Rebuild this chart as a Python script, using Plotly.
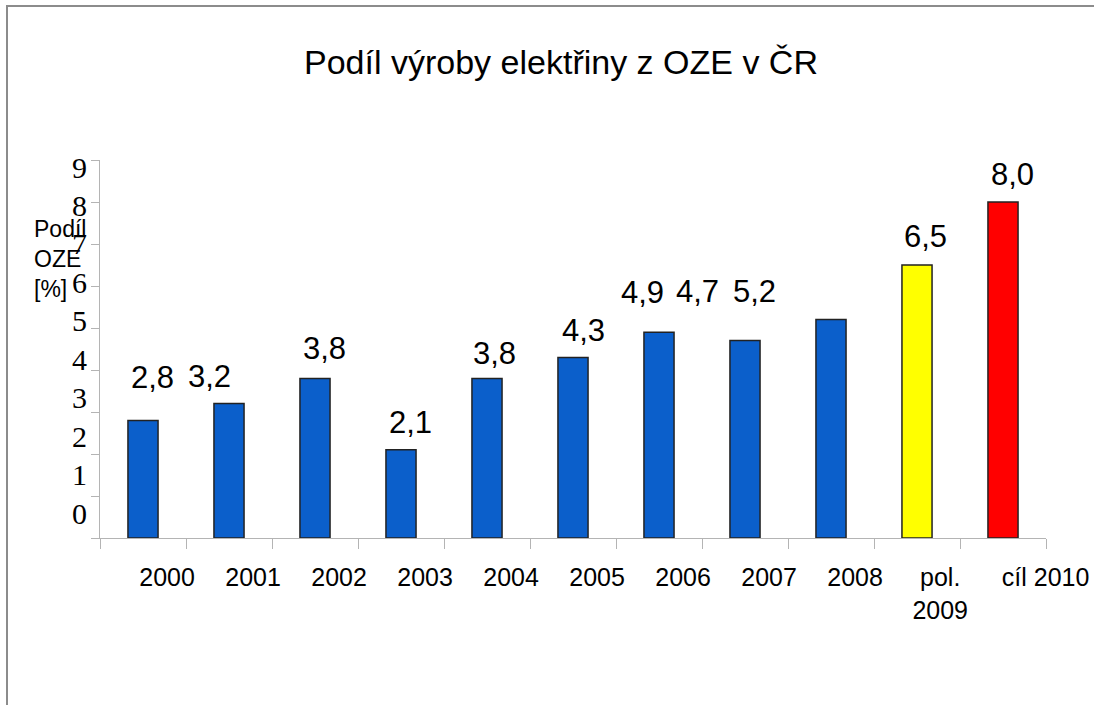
import plotly.graph_objects as go

# ---- data ----
categories = ["2000", "2001", "2002", "2003", "2004", "2005", "2006", "2007", "2008", "pol. 2009", "cíl 2010"]
tick_labels = ["2000", "2001", "2002", "2003", "2004", "2005", "2006", "2007", "2008", "pol.<br>2009", "cíl 2010"]
values = [2.8, 3.2, 3.8, 2.1, 3.8, 4.3, 4.9, 4.7, 5.2, 6.5, 8.0]
value_labels = ["2,8", "3,2", "3,8", "2,1", "3,8", "4,3", "4,9", "4,7", "5,2", "6,5", "8,0"]
y_ticks = [0, 1, 2, 3, 4, 5, 6, 7, 8, 9]

# ---- styling / layout tweaks (not data) ----
bar_colors = ["#0b5fcb"] * 9 + ["#ffff00", "#ff0000"]
label_dx = [9, -20, 9, 9, 7, 10, -17, -48, -77, 8, 9]      # px
label_dy = [43, 27, 30, 27, 25, 27, 40, 49, 28, 29, 28]    # px
xlabel_shift = [0.28] * 9 + [0.27, 0.495]                   # category units

W, H = 1094, 705
L, R, T, B = 100, 48, 160, 167
PW, PH = W - L - R, H - T - B

fig = go.Figure()
fig.add_trace(go.Bar(
    x=categories, y=values, width=0.35,
    marker=dict(color=bar_colors, line=dict(color="#222222", width=1.5)),
    hoverinfo="skip", showlegend=False,
))
# invisible helper traces so that the overlaying label axes are drawn
fig.add_trace(go.Scatter(x=[0], y=[0], xaxis="x2", yaxis="y", mode="markers",
                         marker=dict(opacity=0), hoverinfo="skip", showlegend=False))
fig.add_trace(go.Scatter(x=[categories[0]], y=[0], xaxis="x", yaxis="y2", mode="markers",
                         marker=dict(opacity=0), hoverinfo="skip", showlegend=False))

for i, (v, t) in enumerate(zip(values, value_labels)):
    fig.add_annotation(x=i, y=v, xref="x", yref="y", text=t, showarrow=False,
                       xanchor="center", yanchor="middle",
                       xshift=label_dx[i], yshift=label_dy[i],
                       font=dict(family="Arial, Liberation Sans", size=31, color="black"))

fig.add_annotation(xref="paper", yref="paper", x=(32 - L) / PW, y=(538 - 259) / PH,
                   text="Podíl<br>OZE<br>[%]", showarrow=False, xanchor="left", yanchor="middle",
                   align="left", font=dict(family="Arial, Liberation Sans", size=23, color="black"))

# outer frame (left and top edges visible)
fig.add_shape(type="rect", xref="paper", yref="paper",
              x0=(7 - L) / PW, x1=1.3, y0=-0.6, y1=(538 - 6) / PH,
              line=dict(color="#8c8c8c", width=2), fillcolor="rgba(0,0,0,0)", layer="below")

grey = "#b4b4b4"
fig.update_layout(
    width=W, height=H, autosize=False,
    margin=dict(l=L, r=R, t=T, b=B, pad=0, autoexpand=False),
    paper_bgcolor="white", plot_bgcolor="white",
    title=dict(text="Podíl výroby elektřiny z OZE v ČR", x=561 / W, xanchor="center",
               y=1 - 62 / H, yanchor="middle", yref="container",
               font=dict(family="Arial, Liberation Sans", size=34, color="black")),
    xaxis=dict(type="category", range=[-0.5, len(categories) - 0.5], showticklabels=False,
               ticks="outside", tickson="boundaries", ticklen=10, tickcolor=grey, tickwidth=1,
               showline=True, linecolor=grey, linewidth=1, showgrid=False, zeroline=False,
               fixedrange=True, automargin=False),
    xaxis2=dict(overlaying="x", anchor="y", side="bottom", type="linear",
                range=[-0.5, len(categories) - 0.5], automargin=False,
                tickmode="array", tickvals=[i + s for i, s in enumerate(xlabel_shift)],
                ticktext=tick_labels, ticks="", showline=False, showgrid=False, zeroline=False,
                ticklabelstandoff=22,
                tickfont=dict(family="Arial, Liberation Sans", size=25, color="black")),
    yaxis=dict(range=[0, 9], tickmode="array", tickvals=y_ticks, showticklabels=False,
               ticks="outside", ticklen=8, tickcolor=grey, tickwidth=1, automargin=False,
               showline=True, linecolor=grey, linewidth=1, showgrid=False, zeroline=False),
    yaxis2=dict(overlaying="y", anchor="x", side="left", range=[-0.650, 9.182],
                tickmode="array", tickvals=y_ticks, ticktext=[str(v) for v in y_ticks],
                ticks="", showline=False, showgrid=False, zeroline=False, automargin=False,
                ticklabelstandoff=12,
                tickfont=dict(family="Liberation Serif, Times New Roman", size=30, color="black")),
    bargap=0.65,
)

fig.write_html("out.html", config={"displayModeBar": False},
               post_script="document.body.style.margin='0';")
